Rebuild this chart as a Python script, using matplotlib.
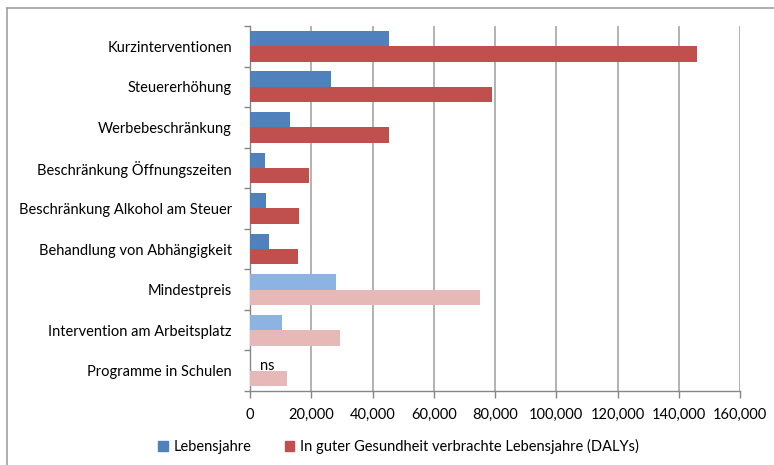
import matplotlib.pyplot as plt
from matplotlib.patches import Patch
from matplotlib.ticker import FuncFormatter, MultipleLocator
import numpy as np

plt.rcParams['font.family'] = ['Lato', 'DejaVu Sans']

categories = ['Kurzinterventionen', 'Steuererhöhung', 'Werbebeschränkung',
              'Beschränkung Öffnungszeiten', 'Beschränkung Alkohol am Steuer',
              'Behandlung von Abhängigkeit', 'Mindestpreis',
              'Intervention am Arbeitsplatz', 'Programme in Schulen']
lebensjahre = [45500, 26600, 13000, 4900, 5300, 6300, 28000, 10400, 0]
dalys = [146000, 79100, 45300, 19300, 16000, 15700, 75200, 29300, 12100]
# last three interventions are drawn in lighter shades
light = [False] * 6 + [True] * 3
labels_blue = [None] * 8 + ['ns']

blue, blue_light = '#4F81BD', '#8DB3E2'
red, red_light = '#C0504D', '#E6B9B8'
fs = 10.5

fig = plt.figure(figsize=(7.74, 4.65), dpi=100)
ax = fig.add_axes([250 / 774, 74 / 465, 490 / 774, 365 / 465])

y = np.arange(len(categories))
h = 0.38
ax.barh(y - h / 2, lebensjahre, height=h,
        color=[blue_light if l else blue for l in light], zorder=3)
ax.barh(y + h / 2, dalys, height=h,
        color=[red_light if l else red for l in light], zorder=3)

for i, t in enumerate(labels_blue):
    if t:
        ax.annotate(t, (lebensjahre[i], y[i] - h / 2), xytext=(7, -2),
                    textcoords='offset points', ha='left', va='center',
                    fontsize=fs)

ax.set_xlim(0, 160000)
ax.set_ylim(len(categories) - 0.5, -0.5)
ax.xaxis.set_major_locator(MultipleLocator(20000))
ax.xaxis.set_major_formatter(FuncFormatter(lambda v, p: f'{v:,.0f}'))
ax.set_yticks(y)
ax.set_yticklabels(categories, fontsize=fs)
ax.set_yticks(np.arange(len(categories) + 1) - 0.5, minor=True)
ax.tick_params(axis='y', which='major', length=0, pad=13)
ax.tick_params(axis='y', which='minor', length=4, color='#868686', width=1)
ax.tick_params(axis='x', length=5, color='#868686', width=1, pad=7, labelsize=fs)
ax.grid(axis='x', color='#a6a6a6', linewidth=1.2, zorder=0)

for s in ['top', 'right']:
    ax.spines[s].set_visible(False)
for s in ['left', 'bottom']:
    ax.spines[s].set_color('#868686')
    ax.spines[s].set_linewidth(1)

handles = [Patch(color=blue, label='Lebensjahre'),
           Patch(color=red, label='In guter Gesundheit verbrachte Lebensjahre (DALYs)')]
fig.legend(handles=handles, loc='center', bbox_to_anchor=(0.515, 0.039),
           ncol=2, frameon=False, fontsize=fs, handlelength=0.65,
           handleheight=0.65, handletextpad=0.4, columnspacing=2.3)

# outer chart frame
fig.add_artist(plt.Line2D([7 / 774, 7 / 774], [0, 1 - 8 / 465], color='#a0a0a0', lw=1.2))
fig.add_artist(plt.Line2D([7 / 774, 1], [1 - 8 / 465, 1 - 8 / 465], color='#a0a0a0', lw=1.2))

fig.savefig('out.png', dpi=100)
